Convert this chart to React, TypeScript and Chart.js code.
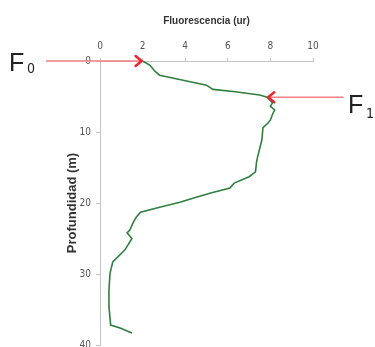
import React, { useEffect, useRef } from "react";
import { Chart, registerables } from "chart.js";

Chart.register(...registerables);

// Depth profile (m) and fluorescence (ur)
const depth = [0, 0.6, 1.5, 2.0, 2.7, 3.4, 4.0, 4.3, 4.8, 5.1, 5.9, 6.4, 6.9, 7.5, 8.3, 8.7, 9.4, 11.1, 13.5, 14.2, 15.6, 16.3, 17.2, 17.9, 18.6, 19.3, 19.9, 20.6, 21.3, 22.0, 22.8, 23.8, 24.2, 25.0, 26.6, 28.3, 29.9, 32.3, 34.6, 37.2, 37.6, 38.3];
const fluorescence = [2.0, 2.35, 2.6, 2.8, 3.9, 5.0, 5.3, 6.25, 7.5, 7.85, 8.1, 8.0, 8.2, 8.1, 8.0, 7.9, 7.65, 7.6, 7.4, 7.35, 7.3, 7.0, 6.3, 6.1, 5.2, 4.4, 3.75, 2.8, 1.9, 1.7, 1.55, 1.4, 1.27, 1.5, 1.17, 0.6, 0.47, 0.42, 0.42, 0.5, 0.94, 1.5];

const xTicks = [0, 2, 4, 6, 8, 10];
const yTicks = [0, 10, 20, 30, 40];

// Annotated points (index into data), subscript and side of the arrow
const markerIndex = [0, 9];
const markerSub = ["0", "1"];
const markerSide = ["left", "right"];

const tickFont = "'Liberation Sans Narrow', 'DejaVu Sans Condensed', 'Roboto Condensed', 'Liberation Sans', Arial, sans-serif";
const titleFont = "'Liberation Sans', Arial, sans-serif";

const arrowPlugin = {
  id: "arrows",
  afterDraw(chart: any) {
    const ctx = chart.ctx;
    const xs = chart.scales.x;
    const ys = chart.scales.y;
    ctx.save();
    markerIndex.forEach((idx, i) => {
      const px = xs.getPixelForValue(fluorescence[idx]);
      const py = ys.getPixelForValue(depth[idx]);
      const left = markerSide[i] === "left";
      const tail = left ? 46 : 343;
      const tip = left ? px - 1 : px + 1;
      ctx.strokeStyle = "#ef7f82";
      ctx.lineWidth = 1.5;
      ctx.beginPath();
      ctx.moveTo(tail, py);
      ctx.lineTo(tip, py);
      ctx.stroke();
      const dir = left ? -1 : 1;
      ctx.strokeStyle = "#e8262c";
      ctx.lineWidth = 2.5;
      ctx.lineCap = "round";
      ctx.lineJoin = "miter";
      ctx.beginPath();
      ctx.moveTo(tip + dir * 6, py - 5);
      ctx.lineTo(tip, py);
      ctx.lineTo(tip + dir * 6, py + 5);
      ctx.stroke();
      // Label
      ctx.fillStyle = "#222";
      ctx.textBaseline = "alphabetic";
      ctx.textAlign = "left";
      const lx = left ? 9 : 348;
      const by = left ? py + 10 : py + 16;
      ctx.font = "25px 'Liberation Sans', Arial, sans-serif";
      ctx.fillText("F", lx, by);
      ctx.font = "14px " + tickFont;
      ctx.fillText(markerSub[i], lx + 18, by + (left ? 2 : 5));
    });
    ctx.restore();
  },
};

export default function App() {
  const ref = useRef<HTMLCanvasElement | null>(null);
  useEffect(() => {
    if (!ref.current) return;
    const points = depth.map((d, i) => ({ x: fluorescence[i], y: d }));
    const chart = new Chart(ref.current, {
      type: "scatter",
      data: {
        datasets: [
          {
            data: points,
            showLine: true,
            borderColor: "#2f7f3f",
            borderWidth: 1.6,
            pointRadius: 0,
            tension: 0,
          },
        ],
      },
      options: {
        animation: false,
        responsive: false,
        maintainAspectRatio: false,
        layout: { padding: { left: 60, right: 62, top: 0, bottom: 0 } },
        plugins: { legend: { display: false }, tooltip: { enabled: false } },
        scales: {
          x: {
            type: "linear",
            position: "top",
            min: 0,
            max: 10,
            afterBuildTicks: (s: any) => {
              s.ticks = xTicks.map((v) => ({ value: v }));
            },
            afterFit: (s: any) => {
              s.height = 61;
            },
            grid: { display: true, drawOnChartArea: false, drawTicks: true, tickLength: 3, color: "#c4c4c4" },
            border: { display: true, color: "#c4c4c4", width: 1 },
            ticks: { color: "#555", font: { family: tickFont, size: 10 }, padding: 6 },
            title: {
              display: true,
              text: "Fluorescencia (ur)",
              color: "#333",
              font: { family: titleFont, size: 10, weight: "bold" },
              padding: { top: 15, bottom: 0 },
            },
          },
          y: {
            type: "linear",
            reverse: true,
            min: 0,
            max: 40,
            afterBuildTicks: (s: any) => {
              s.ticks = yTicks.map((v) => ({ value: v }));
            },
            afterFit: (s: any) => {
              s.width = 40;
            },
            grid: { display: true, drawOnChartArea: false, drawTicks: true, tickLength: 4, color: "#c4c4c4" },
            border: { display: true, color: "#c4c4c4", width: 1 },
            ticks: { color: "#555", font: { family: tickFont, size: 10 }, padding: 5 },
            title: {
              display: true,
              text: "Profundidad (m)",
              color: "#333",
              font: { family: titleFont, size: 13, weight: "bold" },
              padding: { top: 5, bottom: 0 },
            },
          },
        },
      },
      plugins: [arrowPlugin],
    });
    return () => chart.destroy();
  }, []);
  return (
    <div style={{ position: "fixed", left: 0, top: 0, width: 375, height: 347, overflow: "hidden", background: "#fff" }}>
      <canvas ref={ref} width={375} height={356} style={{ display: "block" }} />
    </div>
  );
}
